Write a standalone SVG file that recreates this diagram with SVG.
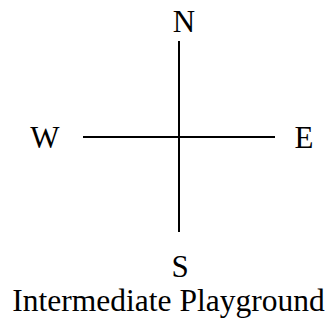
<svg xmlns="http://www.w3.org/2000/svg" width="331" height="322" viewBox="0 0 331 322">
<rect width="331" height="322" fill="#fff"/>
<g id="connectors" stroke="#000" stroke-width="2">
<line x1="179" y1="41" x2="179" y2="232"/>
<line x1="83" y1="137" x2="275" y2="137"/>
</g>
<g font-family="'Liberation Serif', 'Times New Roman', serif" font-size="31" fill="#000" text-anchor="middle">
<g id="N"><text x="184" y="32">N</text></g>
<g id="W"><text x="45" y="148">W</text></g>
<g id="E"><text x="304" y="148">E</text></g>
<g id="S"><text x="180" y="277">S</text></g>
<g id="title"><text x="168.5" y="311" font-size="31.5">Intermediate Playground</text></g>
</g>
</svg>
